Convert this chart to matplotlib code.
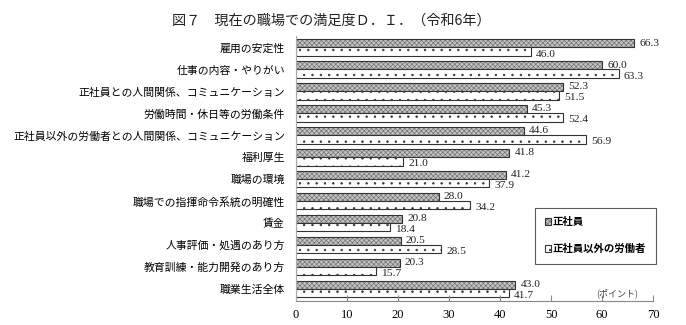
import numpy as np
import matplotlib.pyplot as plt

plt.rcParams['font.family'] = ['Noto Sans CJK JP', 'DejaVu Sans']
plt.rcParams['hatch.linewidth'] = 0.5

categories = ["雇用の安定性", "仕事の内容・やりがい", "正社員との人間関係、コミュニケーション",
              "労働時間・休日等の労働条件", "正社員以外の労働者との人間関係、コミュニケーション",
              "福利厚生", "職場の環境", "職場での指揮命令系統の明確性", "賃金",
              "人事評価・処遇のあり方", "教育訓練・能力開発のあり方", "職業生活全体"]
seishain = [66.3, 60.0, 52.3, 45.3, 44.6, 41.8, 41.2, 28.0, 20.8, 20.5, 20.3, 43.0]
hiseishain = [46.0, 63.3, 51.5, 52.4, 56.9, 21.0, 37.9, 34.2, 18.4, 28.5, 15.7, 41.7]
series_names = ["正社員", "正社員以外の労働者"]
xticks = [0, 10, 20, 30, 40, 50, 60, 70]

fig = plt.figure(figsize=(6.86, 3.25), dpi=100)
ax = fig.add_axes([0.4315, 0.074, 0.5205, 0.815])

y = np.arange(len(categories))
h = 0.38
b1 = ax.barh(y - h/2, seishain, height=h, color='#c4c4c4', edgecolor='#333333',
             linewidth=0.8, hatch='xxxxxxx', label=series_names[0])
b2 = ax.barh(y + h/2, hiseishain, height=h, color='white', edgecolor='#333333',
             linewidth=0.8, hatch='..', label=series_names[1])
for bar in b1:
    bar._hatch_color = (0.45, 0.45, 0.45, 1)
for bar in b2:
    bar._hatch_color = (0.2, 0.2, 0.2, 1)

# value labels just right of each bar end
for yi, v in zip(y, seishain):
    ax.text(v + 1.0, yi - h/2 - 0.01, f"{v:.1f}", va='center', ha='left',
            fontsize=8.2, family='Liberation Serif', color='#222222')
for yi, v in zip(y, hiseishain):
    ax.text(v + 1.0, yi + h/2 + 0.11, f"{v:.1f}", va='center', ha='left',
            fontsize=8.2, family='Liberation Serif', color='#222222')

ax.set_xlim(0, 70)
ax.set_ylim(11.55, -0.52)
ax.set_xticks(xticks)
ax.set_xticklabels([str(t) for t in xticks], family='Liberation Serif', fontsize=9)
ax.set_yticks(y)
ax.set_yticklabels(categories, fontsize=7.8)
ax.tick_params(axis='x', direction='in', length=4, color='#888888', pad=6)
ax.tick_params(axis='y', length=0, pad=8)
for s in ['top', 'right']:
    ax.spines[s].set_visible(False)
ax.spines['bottom'].set_color('#888888')
ax.spines['left'].set_color('#aaaaaa')

ax.text(63, 11.2, "(ポイント)", fontsize=6.5, ha='center', va='center', color='#444444')

leg = ax.legend(loc='upper left', bbox_to_anchor=(0.67, 0.352), fontsize=7.5,
                frameon=True, fancybox=False, edgecolor='#333333',
                handlelength=0.6, handleheight=0.6, handletextpad=0.2,
                labelspacing=1.6, borderpad=0.9, borderaxespad=0,
                prop={'weight': 'bold', 'size': 7.5})
leg.get_frame().set_linewidth(0.8)

fig.text(0.251, 0.938, "図７　現在の職場での満足度Ｄ．Ｉ．（令和6年）", fontsize=10.2,
         ha='left', va='center', color='#222222')

fig.savefig('out.png', dpi=100)
